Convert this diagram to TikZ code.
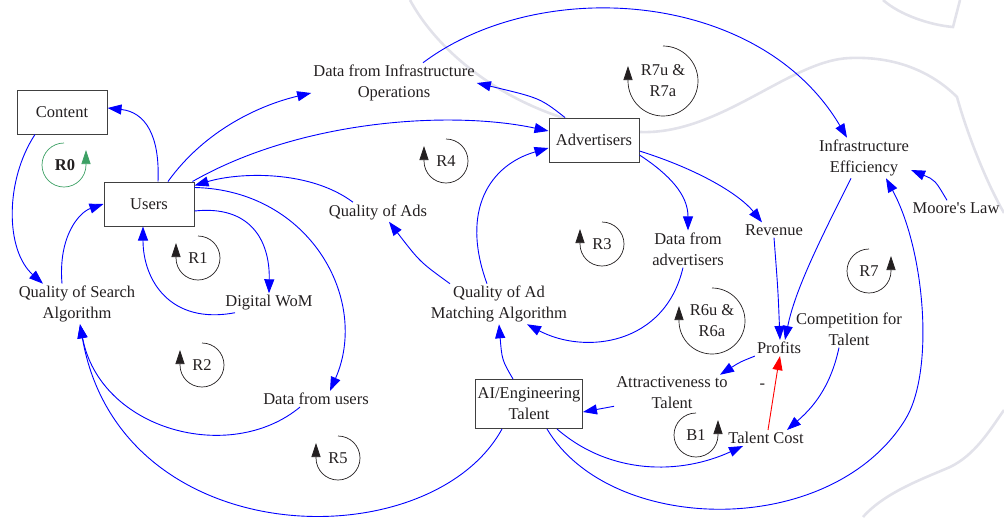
\documentclass[tikz,border=0pt]{standalone}
\usepackage{fontspec}
\setmainfont{Liberation Serif}
\usetikzlibrary{arrows.meta}
\definecolor{linkblue}{RGB}{0,0,255}
\definecolor{txt}{RGB}{35,31,32}
\definecolor{boxline}{RGB}{64,64,64}
\definecolor{loopgreen}{RGB}{60,160,100}
\definecolor{washgray}{RGB}{226,226,234}
\tikzset{
    x=1pt, y=-1pt, % one unit is one pixel of the drawing, y runs downwards
    var/.style={align=center, inner sep=2pt, text=txt, font=\fontsize{16.5}{21}\selectfont}, % plain variables
    stock/.style={var, draw=boxline, line width=1pt, fill=white, minimum width=90pt, minimum height=44pt}, % boxed variables
    link/.style={linkblue, line width=0.9pt, -{Triangle[length=14pt,width=10pt]}}, % causal links
    neglink/.style={link, red}, % negative link
    loopmark/.style={inner sep=0pt, text=txt, align=center, font=\fontsize{16.5}{21}\selectfont}, % loop names
    looparc/.style={txt, line width=0.7pt, -{Triangle[length=14pt,width=9pt]}}, % loop circles
    wash/.style={draw=washgray, line width=2.6pt}, % faint background strokes
}

\begin{document}
\begin{tikzpicture}
\useasboundingbox (0,0) rectangle (1004,517);

% background strokes
\draw[wash] (410,0) .. controls (445,65) and (535,127) .. (640,132) .. controls (720,135) and (790,60) .. (850,58) .. controls (900,56) and (935,75) .. (957,97) .. controls (966,130) and (985,180) .. (1004,213);
\draw[wash] (883,0) .. controls (900,15) and (930,25) .. (953,27) -- (960,0);
\draw[wash] (863,517) .. controls (885,492) and (925,478) .. (950,467) .. controls (975,455) and (990,430) .. (1004,410);

% variables
\node[stock] (content) at (62,112) {Content};
\node[stock] (users) at (149,204) {Users};
\node[stock] (advertisers) at (594,140) {Advertisers};
\node[stock, minimum width=107pt, minimum height=49pt] (aitalent) at (529,404) {AI/Engineering\\Talent};
\node[var] (datainfra) at (394,83) {Data from Infrastructure\\Operations};
\node[var] (infraeff) at (864,158) {Infrastructure\\Efficiency};
\node[var] (moore) at (956,208) {Moore\textquotesingle s Law};
\node[var] (qads) at (378,212) {Quality of Ads};
\node[var] (qsearch) at (77,304) {Quality of Search\\Algorithm};
\node[var] (wom) at (269,303) {Digital WoM};
\node[var] (datausers) at (316,399) {Data from users};
\node[var] (qadmatch) at (499,304) {Quality of Ad\\Matching Algorithm};
\node[var] (dataadv) at (688,249) {Data from\\advertisers};
\node[var] (revenue) at (774,230) {Revenue};
\node[var] (profits) at (779,348) {Profits};
\node[var] (competition) at (849,329) {Competition for\\Talent};
\node[var] (attract) at (672,393) {Attractiveness to\\Talent};
\node[var] (talentcost) at (766,438) {Talent Cost};

% links
\draw[link] ([xshift=9pt]users.north) .. controls (160,135) and (145,112) .. ([yshift=4pt]content.east);
\draw[link] ([xshift=-27pt]content.south) .. controls (5,180) and (5,250) .. ([xshift=-34pt]qsearch.north);
\draw[link] ([xshift=-15pt]qsearch.north) .. controls (58,235) and (80,212) .. (users.west);
\draw[link] ([xshift=-34pt]wom.south) .. controls (170,325) and (143,280) .. ([xshift=-6pt]users.south);
\draw[link] ([yshift=-7pt]users.east) .. controls (250,205) and (270,240) .. (wom.north);
\draw[link] ([yshift=-6pt]users.north east) .. controls (310,190) and (370,300) .. ([xshift=14pt]datausers.north);
\draw[link] ([xshift=-16pt]datausers.south) .. controls (230,465) and (100,430) .. ([xshift=3pt]qsearch.south);
\draw[link] ([xshift=-27pt]aitalent.south) .. controls (430,560) and (120,555) .. ([xshift=3pt]qsearch.south);
\draw[link] ([xshift=19pt]users.north) .. controls (205,130) and (260,105) .. ([yshift=-10pt]datainfra.west);
\draw[link] ([xshift=-2pt]users.north east) .. controls (300,120) and (450,110) .. ([yshift=9pt]advertisers.west);
\draw[link] ([xshift=-29pt]advertisers.north) .. controls (540,98) .. (datainfra.east);
\draw[link] ([xshift=29pt]datainfra.north) .. controls (540,-25) and (760,-10) .. ([xshift=-17pt]infraeff.north);
\draw[link] ([xshift=-9pt]moore.north) .. controls (935,180) .. ([yshift=-12pt]infraeff.east);
\draw[link] ([xshift=-13pt]infraeff.south) .. controls (820,240) and (795,290) .. ([xshift=6pt]profits.north);
\draw[link] (revenue.south) .. controls (778,290) .. ([xshift=1pt]profits.north);
\draw[link] ([yshift=-11pt]advertisers.east) .. controls (700,170) and (740,195) .. ([xshift=-12pt]revenue.north);
\draw[link] ([yshift=-15pt]advertisers.east) .. controls (670,175) and (688,195) .. (dataadv.north);
\draw[link] ([xshift=-5pt]dataadv.south) .. controls (665,345) and (585,355) .. ([xshift=28pt]qadmatch.south);
\draw[link] ([xshift=-12pt]qadmatch.north) .. controls (460,210) and (490,165) .. ([yshift=-8pt]advertisers.west);
\draw[link] ([xshift=-49pt]qadmatch.north) .. controls (420,262) .. ([xshift=11pt]qads.south);
\draw[link] ([xshift=-25pt]qads.north) .. controls (310,170) and (240,172) .. ([yshift=-4pt]users.north east);
\draw[link] ([xshift=-16pt]aitalent.north) .. controls (502,360) .. (qadmatch.south);
\draw[link] (profits.south west) .. controls (740,362) .. ([xshift=48pt]attract.north);
\draw[link] ([yshift=5pt]attract.south west) -- ([yshift=-8pt]aitalent.east);
\draw[neglink] ([xshift=2pt]talentcost.north) .. controls (772,400) .. ([xshift=1pt]profits.south) node[var, pos=0.7, left=7pt] {-};
\draw[link] ([xshift=-10pt]competition.south) .. controls (830,390) and (810,410) .. ([xshift=21pt]talentcost.north);
\draw[link] ([xshift=28pt]aitalent.south) .. controls (610,475) and (680,475) .. ([xshift=-23pt]talentcost.south);
\draw[link] ([xshift=18pt]aitalent.south) .. controls (610,535) and (830,540) .. (905,420) .. controls (935,372) and (925,250) .. ([xshift=22pt]infraeff.south);

% loops
\node[loopmark, font=\fontsize{16.5}{21}\selectfont\bfseries] (r0) at (65,165) {R0};
\draw[looparc, loopgreen] (64,165) ++(-90:22) arc[start angle=-90, end angle=-360, radius=22] -- ++(0,-15);
\node[loopmark] (r1) at (198,258) {R1};
\draw[looparc] (r1.center) ++(-90:22) arc[start angle=-90, end angle=180, radius=22] -- ++(0,-15);
\node[loopmark] (r2) at (202,365) {R2};
\draw[looparc] (r2.center) ++(-90:22) arc[start angle=-90, end angle=180, radius=22] -- ++(0,-15);
\node[loopmark] (r5) at (338,458) {R5};
\draw[looparc] (r5.center) ++(-90:22) arc[start angle=-90, end angle=180, radius=22] -- ++(0,-15);
\node[loopmark] (r3) at (602,244) {R3};
\draw[looparc] (r3.center) ++(-90:22) arc[start angle=-90, end angle=180, radius=22] -- ++(0,-15);
\node[loopmark] (r4) at (446,161) {R4};
\draw[looparc] (r4.center) ++(-90:22) arc[start angle=-90, end angle=180, radius=22] -- ++(0,-15);
\node[loopmark] (r7u) at (663,81) {R7u \&\\R7a};
\draw[looparc] (r7u.center) ++(-90:35) arc[start angle=-90, end angle=180, radius=35] -- ++(0,-15);
\node[loopmark] (r6u) at (712,321) {R6u \&\\R6a};
\draw[looparc] (r6u.center) ++(-90:33) arc[start angle=-90, end angle=180, radius=33] -- ++(0,-15);
\node[loopmark] (r7) at (869,271) {R7};
\draw[looparc] (r7.center) ++(-90:22) arc[start angle=-90, end angle=-360, radius=22] -- ++(0,-15);
\node[loopmark] (b1) at (696,435) {B1};
\draw[looparc] (b1.center) ++(-90:22) arc[start angle=-90, end angle=-360, radius=22] -- ++(0,-15);
\end{tikzpicture}
\end{document}
